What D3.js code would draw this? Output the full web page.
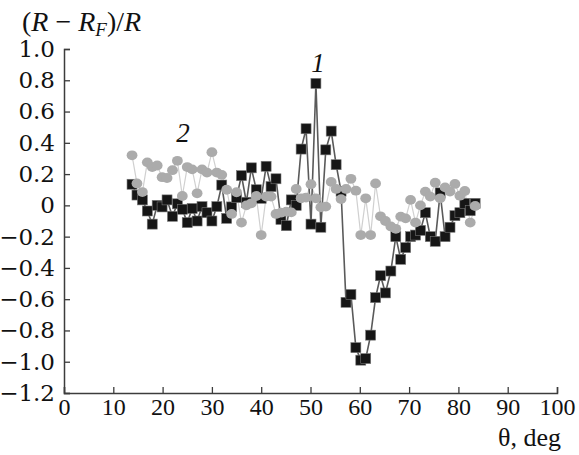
<!DOCTYPE html>
<html>
<head>
<meta charset="utf-8">
<script src="https://cdn.jsdelivr.net/npm/d3@7/dist/d3.min.js"></script>
<style>
  html, body { margin: 0; padding: 0; background: #fff; }
  svg { display: block; }
  svg text { font-family: "Liberation Serif", "Times New Roman", Times, Tinos, "DejaVu Serif", serif; fill: #111; }
  svg .ylab text { font-family: "DejaVu Serif", "Liberation Serif", serif; }
</style>
</head>
<body>
<svg id="chart" width="579" height="455"></svg>
<script>
// ---- data ----
const theta = [13.8, 14.8, 15.9, 16.9, 17.9, 18.9, 19.9, 20.9, 22.0, 23.0,
  24.0, 25.0, 26.0, 27.0, 28.0, 29.0, 30.0, 31.0, 32.0, 33.0,
  34.0, 35.0, 36.0, 37.0, 38.0, 39.0, 40.0, 41.0, 42.0, 43.0,
  44.0, 45.1, 46.1, 47.1, 48.1, 49.1, 50.1, 51.1, 52.1, 53.1,
  54.2, 55.2, 56.2, 57.2, 58.2, 59.2, 60.2, 61.2, 62.2, 63.2,
  64.2, 65.2, 66.3, 67.3, 68.3, 69.3, 70.3, 71.3, 72.3, 73.3,
  74.3, 75.3, 76.3, 77.3, 78.3, 79.3, 80.3, 81.3, 82.4, 83.4];

const series1 = [0.135, 0.066, 0.035, -0.036, -0.12, 0.0, -0.01, 0.035, -0.07, 0.01,
  -0.025, -0.11, -0.02, -0.10, -0.008, -0.047, -0.10, -0.008, 0.13, -0.083,
  -0.01, 0.05, 0.19, 0.02, 0.24, 0.10, 0.045, 0.25, 0.12, 0.17,
  -0.09, -0.13, 0.035, 0.0, 0.36, 0.49, -0.12, 0.78, -0.14, 0.355,
  0.475, 0.26, 0.09, -0.62, -0.57, -0.91, -0.99, -0.98, -0.83, -0.59,
  -0.45, -0.56, -0.42, -0.20, -0.345, -0.27, -0.20, -0.19, -0.16, -0.047,
  -0.20, -0.23, 0.08, -0.20, -0.14, -0.066, -0.047, 0.013, -0.034, 0.013];

const series2 = [0.32, 0.14, 0.085, 0.275, 0.245, 0.255, 0.18, 0.175, 0.225, 0.285,
  0.06, 0.245, 0.23, 0.077, 0.23, 0.21, 0.34, 0.21, 0.195, 0.10,
  -0.055, 0.084, -0.11, 0.0, 0.013, 0.06, -0.19, 0.056, 0.056, -0.055,
  -0.047, -0.04, -0.045, 0.105, 0.045, 0.05, 0.135, 0.045, -0.012, -0.008,
  0.15, 0.105, 0.04, 0.105, 0.17, 0.094, -0.19, 0.045, -0.19, 0.14,
  -0.07, -0.10, -0.135, -0.15, -0.072, -0.083, 0.035, -0.11, 0.0, 0.088,
  0.056, 0.145, 0.045, 0.115, 0.088, 0.137, 0.062, 0.092, -0.11, -0.004];

const xTicks = [0, 10, 20, 30, 40, 50, 60, 70, 80, 90, 100];
const yTicks = [1.0, 0.8, 0.6, 0.4, 0.2, 0, -0.2, -0.4, -0.6, -0.8, -1.0, -1.2];
const yTickLabels = ["1.0", "0.8", "0.6", "0.4", "0.2", "0", "\u22120.2", "\u22120.4", "\u22120.6", "\u22120.8", "\u22121.0", "\u22121.2"];

// ---- layout ----
const svg = d3.select("#chart");
const x = d3.scaleLinear().domain([0, 100]).range([64, 557]);
const y = d3.scaleLinear().domain([-1.2, 1.0]).range([393, 49]);
const axisColor = "#3c3c3c";

const pts1 = theta.map((t, i) => [t, series1[i]]);
const pts2 = theta.map((t, i) => [t, series2[i]]);
const line = d3.line().x(d => x(d[0])).y(d => y(d[1]));

// ---- series 2 line ----
svg.append("path").datum(pts2).attr("d", line)
  .attr("fill", "none").attr("stroke", "#d0d0d0").attr("stroke-width", 1.2);

// ---- series 1 line ----
svg.append("path").datum(pts1).attr("d", line)
  .attr("fill", "none").attr("stroke", "#5a5a5a").attr("stroke-width", 1.6);

// ---- series 1 squares ----
const sq = 10;
svg.append("g").selectAll("rect").data(pts1).join("rect")
  .attr("x", d => x(d[0]) - sq / 2).attr("y", d => y(d[1]) - sq / 2)
  .attr("width", sq).attr("height", sq)
  .attr("fill", "#161616").attr("stroke", "#777").attr("stroke-width", 0.6);

// ---- series 2 circles ----
svg.append("g").selectAll("ellipse").data(pts2).join("ellipse")
  .attr("cx", d => x(d[0])).attr("cy", d => y(d[1]))
  .attr("rx", 5.4).attr("ry", 4.9)
  .attr("fill", "#ababab");

// ---- axes ----
const xAxis = d3.axisBottom(x).tickValues(xTicks).tickSize(-6).tickPadding(5).tickFormat(d => String(d));
const gx = svg.append("g").attr("transform", `translate(0,${y(-1.2)})`).call(xAxis);
gx.attr("font-family", null);
gx.select(".domain").attr("stroke", axisColor).attr("stroke-width", 1.5);
gx.selectAll(".tick line").attr("stroke", axisColor).attr("stroke-width", 1.3);
gx.selectAll(".tick text").attr("font-size", 24).attr("fill", "#111");

const yAxis = d3.axisLeft(y).tickValues(yTicks).tickSize(-6).tickPadding(9)
  .tickFormat((d, i) => yTickLabels[i]);
const gy = svg.append("g").attr("class", "ylab").attr("transform", `translate(${x(0)},0)`).call(yAxis);
gy.attr("font-family", null);
gy.select(".domain").attr("stroke", axisColor).attr("stroke-width", 1.5);
gy.selectAll(".tick line").attr("stroke", axisColor).attr("stroke-width", 1.3);
gy.selectAll(".tick text").attr("font-size", 23).attr("fill", "#111");

// ---- labels ----
const yl = svg.append("text").attr("x", 22).attr("y", 31).attr("font-size", 28);
yl.append("tspan").text("(");
yl.append("tspan").attr("font-style", "italic").text("R");
yl.append("tspan").text(" \u2212 ");
yl.append("tspan").attr("font-style", "italic").text("R");
yl.append("tspan").attr("font-style", "italic").attr("font-size", 19).attr("dy", 5).text("F");
yl.append("tspan").attr("dy", -5).text(")/");
yl.append("tspan").attr("font-style", "italic").text("R");

svg.append("text").attr("x", 561).attr("y", 446).attr("text-anchor", "end")
  .attr("font-size", 26).text("\u03b8, deg");

svg.append("text").attr("x", 318).attr("y", 72).attr("text-anchor", "middle")
  .attr("font-size", 27).attr("font-style", "italic").text("1");
svg.append("text").attr("x", 183).attr("y", 142).attr("text-anchor", "middle")
  .attr("font-size", 27).attr("font-style", "italic").text("2");
</script>
</body>
</html>
